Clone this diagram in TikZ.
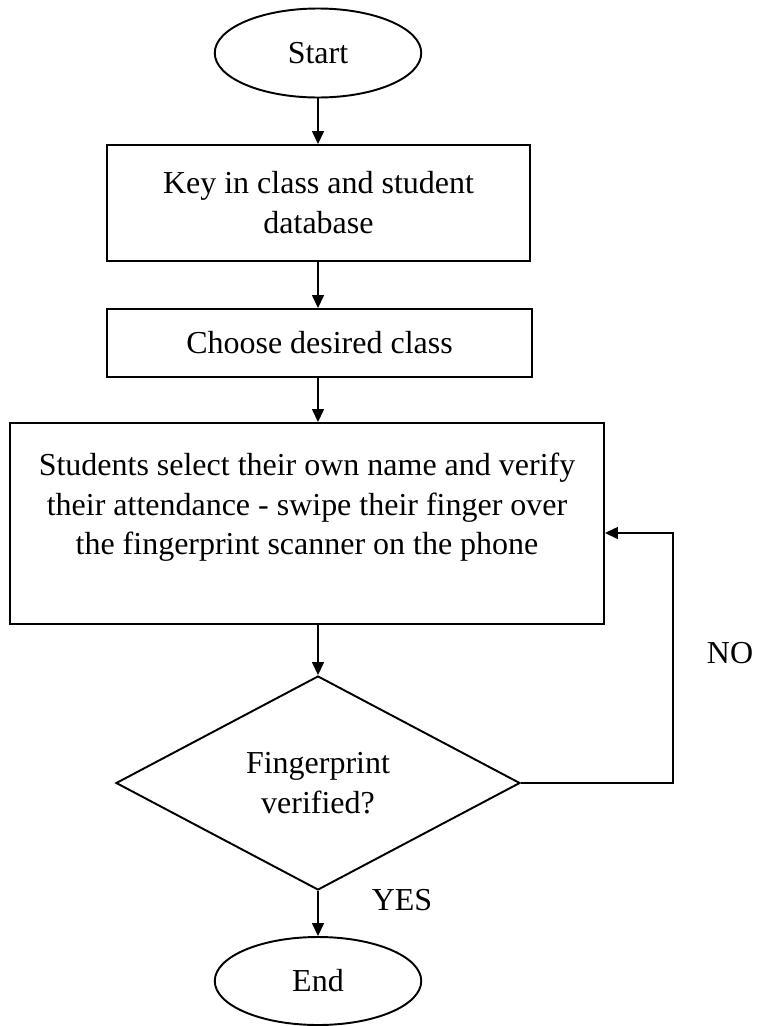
\documentclass[tikz,border=0pt]{standalone}
\usepackage{fontspec}
\setmainfont{Liberation Serif}
\usetikzlibrary{shapes.geometric, arrows.meta}

\tikzset{
  terminal/.style={draw, ellipse, line width=1.1pt, minimum width=4.13cm, minimum height=1.78cm, inner sep=0pt},
  process/.style={draw, rectangle, line width=1.1pt, align=center},
  decision/.style={draw, diamond, line width=1.1pt, align=center, aspect=1.9, inner sep=0pt, minimum width=8.08cm, minimum height=4.28cm},
  flow/.style={line width=0.85pt, -{Triangle[length=0.26cm, width=0.24cm]}}
}

\begin{document}
\begin{tikzpicture}[font=\fontsize{18.2pt}{22.7pt}\selectfont]

    % Page frame
    \useasboundingbox (0, 0) rectangle (15.18, -20.52);

    % Steps
    \node[terminal] (start) at (6.36, -1.06) {Start};
    \node[process, minimum width=8.46cm, minimum height=2.32cm] (keyin) at (6.37, -4.06)
        {Key in class and student\\database};
    \node[process, minimum width=8.5cm, minimum height=1.36cm] (choose) at (6.39, -6.86)
        {Choose desired class};
    \node[process, minimum width=11.88cm, minimum height=4.02cm] (select) at (6.14, -10.47)
        {Students select their own name and verify\\their attendance - swipe their finger over\\the fingerprint scanner on the phone\\[-0.25cm]\strut};
    \node[decision] (verified) at (6.36, -15.66) {Fingerprint\\verified?};
    \node[terminal, minimum height=1.76cm] (finish) at (6.36, -19.62) {End};

    % Arrows down
    \draw[flow] (start.south) -- (keyin.north -| start);
    \draw[flow] (keyin.south -| start) -- (choose.north -| start);
    \draw[flow] (choose.south -| start) -- (select.north -| start);
    \draw[flow] (select.south -| start) -- (verified.north);
    \draw[flow] (verified.south) -- (finish.north);

    % Loop back when not verified
    \coordinate (back) at (13.46, -10.66);
    \draw[flow] (verified.east) -| (back) -- (back -| select.east);

    % Branch labels
    \node (no) at (14.6, -13.06) {NO};
    \node (yes) at (8.04, -18.0) {YES};

\end{tikzpicture}
\end{document}
